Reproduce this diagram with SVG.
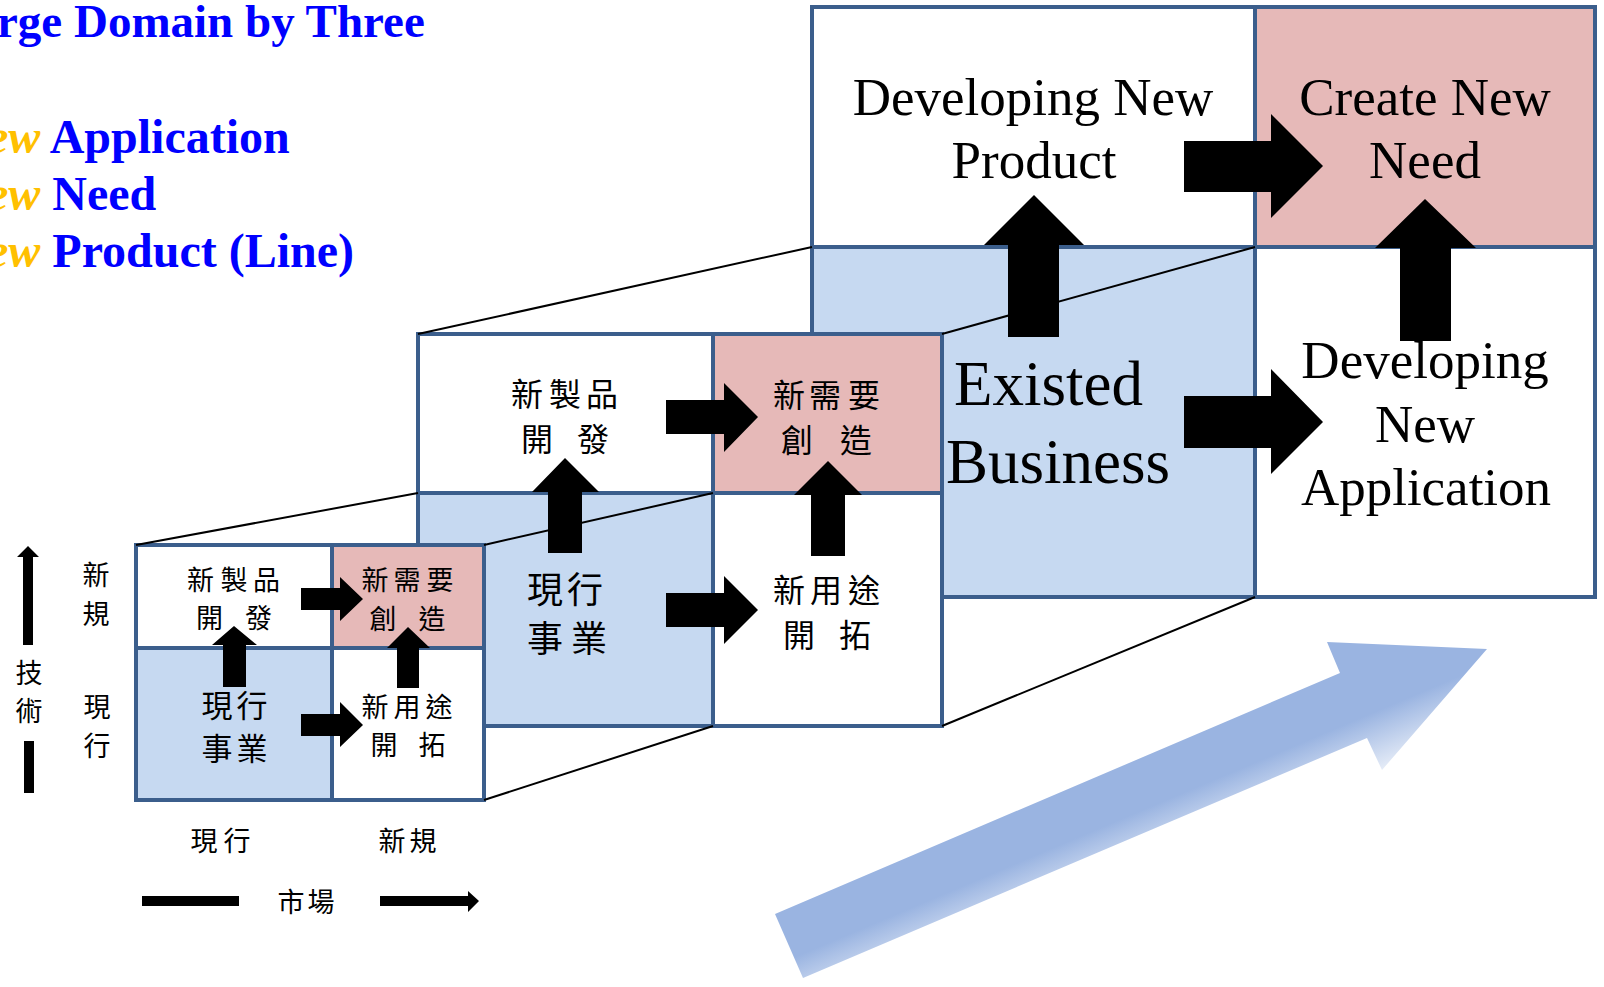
<svg xmlns="http://www.w3.org/2000/svg" width="1604" height="987" viewBox="0 0 1604 987">
  <defs>
    <style>
      .cell { stroke: #3b5e8c; stroke-width: 4; }
      .w { fill: #ffffff; }
      .b { fill: #c6d9f1; }
      .p { fill: #e6b9b8; }
      .persp { stroke: #000000; stroke-width: 2; fill: none; }
      .blk { fill: #000000; }
      .cjk { font-family: "Noto Sans CJK TC", "Noto Sans CJK JP", sans-serif; fill: #000000; text-anchor: middle; dominant-baseline: central; }
      .s27 { font-size: 27px; }
      .s31 { font-size: 31px; }
      .s32 { font-size: 32px; }
      .s36 { font-size: 36px; }
      .en { font-family: "Liberation Serif", "Times New Roman", serif; font-size: 53px; fill: #000000; text-anchor: middle; }
      .en-big { font-family: "Liberation Serif", "Times New Roman", serif; font-size: 63px; fill: #000000; }
      .title { font-family: "Liberation Serif", "Times New Roman", serif; font-weight: bold; font-size: 47px; fill: #0000ff; }
      .item { font-family: "Liberation Serif", "Times New Roman", serif; font-weight: bold; font-size: 48px; fill: #0000ff; }
      .accent { fill: #ffc000; font-style: italic; }
    </style>
    <linearGradient id="growthFill" gradientUnits="userSpaceOnUse" x1="775" y1="914" x2="816" y2="1011">
      <stop offset="0" stop-color="#9ab4e1"/>
      <stop offset="0.45" stop-color="#9ab4e1"/>
      <stop offset="1" stop-color="#e8eef8"/>
    </linearGradient>
  </defs>

  <rect x="0" y="0" width="1604" height="987" fill="#ffffff"/>

  <!-- heading and the three directions -->
  <g id="heading">
    <text class="title" x="-3" y="37">rge Domain by Three</text>
    <text class="item" x="-13" y="153"><tspan class="accent">ew</tspan> Application</text>
    <text class="item" x="-13" y="210"><tspan class="accent">ew</tspan> Need</text>
    <text class="item" x="-13" y="267"><tspan class="accent">ew</tspan> Product (Line)</text>
  </g>

  <!-- large matrix -->
  <g id="large-matrix">
    <g id="large-new-product">
      <rect class="cell w" x="812" y="7" width="443" height="240"/>
      <text class="en" x="1033" y="115">Developing New</text>
      <text class="en" x="1034" y="178">Product</text>
    </g>
    <g id="large-new-need">
      <rect class="cell p" x="1255" y="7" width="340" height="240"/>
      <text class="en" x="1425" y="115">Create New</text>
      <text class="en" x="1425" y="178">Need</text>
    </g>
    <g id="large-existed-business">
      <rect class="cell b" x="812" y="247" width="443" height="350"/>
      <text class="en-big" x="954" y="405">Existed</text>
      <text class="en-big" x="946" y="483">Business</text>
    </g>
    <g id="large-new-application">
      <rect class="cell w" x="1255" y="247" width="340" height="350"/>
      <text class="en" x="1425" y="378">Developing</text>
      <text class="en" x="1425" y="442">New</text>
      <text class="en" x="1426" y="505">Application</text>
    </g>
  </g>

  <!-- medium matrix -->
  <g id="medium-matrix">
    <g id="medium-new-product">
      <rect class="cell w" x="418" y="334" width="295" height="159"/>
      <text class="cjk s32" x="527 565 602" y="392">新製品</text>
      <text class="cjk s32" x="537 593" y="437">開發</text>
    </g>
    <g id="medium-new-need">
      <rect class="cell p" x="713" y="334" width="229" height="159"/>
      <text class="cjk s32" x="789 825 864" y="393">新需要</text>
      <text class="cjk s32" x="797 856" y="438">創造</text>
    </g>
    <g id="medium-existing">
      <rect class="cell b" x="418" y="493" width="295" height="233"/>
      <text class="cjk s36" x="545 585" y="587">現行</text>
      <text class="cjk s36" x="545 589" y="636">事業</text>
    </g>
    <g id="medium-new-use">
      <rect class="cell w" x="713" y="493" width="229" height="233"/>
      <text class="cjk s32" x="789 826 864" y="588">新用途</text>
      <text class="cjk s32" x="799 855" y="633">開拓</text>
    </g>
  </g>

  <!-- small matrix -->
  <g id="small-matrix">
    <g id="small-new-product">
      <rect class="cell w" x="136" y="545" width="196" height="103"/>
      <text class="cjk s27" x="200.5 234 266.5" y="578">新製品</text>
      <text class="cjk s27" x="209.5 258.5" y="616">開發</text>
    </g>
    <g id="small-new-need">
      <rect class="cell p" x="332" y="545" width="152" height="103"/>
      <text class="cjk s27" x="375 407 440" y="578">新需要</text>
      <text class="cjk s27" x="383 432" y="617">創造</text>
    </g>
    <g id="small-existing">
      <rect class="cell b" x="136" y="648" width="196" height="152"/>
      <text class="cjk s31" x="217 252" y="703">現行</text>
      <text class="cjk s31" x="217 252" y="746">事業</text>
    </g>
    <g id="small-new-use">
      <rect class="cell w" x="332" y="648" width="152" height="152"/>
      <text class="cjk s27" x="375 407 439" y="705">新用途</text>
      <text class="cjk s27" x="384 432" y="743">開拓</text>
    </g>
  </g>

  <!-- axes: technology (vertical) and market (horizontal) -->
  <g id="axes">
    <path class="blk" d="M23,645 V557 H17 L28,546 L39,557 H33 V645 Z"/>
    <rect class="blk" x="24" y="741" width="10" height="52"/>
    <text class="cjk s27" x="29" y="671">技</text>
    <text class="cjk s27" x="29" y="709">術</text>
    <text class="cjk s27" x="96" y="573">新</text>
    <text class="cjk s27" x="96" y="612">規</text>
    <text class="cjk s27" x="97" y="705">現</text>
    <text class="cjk s27" x="97" y="744">行</text>
    <text class="cjk s27" x="204 237" y="839">現行</text>
    <text class="cjk s27" x="392 423" y="839">新規</text>
    <rect class="blk" x="142" y="896" width="97" height="10"/>
    <text class="cjk s27" x="291 321" y="900">市場</text>
    <path class="blk" d="M380,896 H468 V891 L479,901 L468,912 V906 H380 Z"/>
  </g>

  <!-- connectors: perspective lines and block arrows -->
  <g id="connectors">
    <line class="persp" x1="418" y1="334" x2="812" y2="247"/>
    <line class="persp" x1="942" y1="334" x2="1255" y2="247"/>
    <line class="persp" x1="942" y1="726" x2="1255" y2="597"/>
    <line class="persp" x1="136" y1="545" x2="418" y2="493"/>
    <line class="persp" x1="484" y1="545" x2="713" y2="493"/>
    <line class="persp" x1="484" y1="800" x2="713" y2="726"/>

    <!-- small matrix arrows -->
    <path class="blk" d="M301,588 H340 V577 L363,599 L340,621 V610 H301 Z"/>
    <path class="blk" d="M301,714 H340 V702 L363,725 L340,747 V736 H301 Z"/>
    <path class="blk" d="M223,687 V645 H212 L234,626 L257,645 H246 V687 Z"/>
    <path class="blk" d="M397,688 V648 H387 L408,627 L430,648 H419 V688 Z"/>

    <!-- medium matrix arrows -->
    <path class="blk" d="M666,400 H724 V383 L758,417 L724,452 V434 H666 Z"/>
    <path class="blk" d="M666,593 H724 V576 L758,610 L724,644 V627 H666 Z"/>
    <path class="blk" d="M548,553 V492 H532 L565,458 L599,492 H582 V553 Z"/>
    <path class="blk" d="M811,556 V495 H794 L828,461 L862,495 H845 V556 Z"/>

    <!-- large matrix arrows -->
    <path class="blk" d="M1184,141 H1271 V114 L1323,166 L1271,218 V192 H1184 Z"/>
    <path class="blk" d="M1184,396 H1271 V369 L1323,422 L1271,474 V448 H1184 Z"/>
    <path class="blk" d="M1008,337 V245 H984 L1034,195 L1084,245 H1059 V337 Z"/>
    <path class="blk" d="M1400,341 V248 H1375 L1425,199 L1476,248 H1451 V341 Z"/>
  </g>

  <!-- growth direction -->
  <g id="growth-arrow">
    <polygon fill="url(#growthFill)" points="775,914 1340,673 1327,642 1487,649 1382,770 1367,738 803,978"/>
  </g>
</svg>
